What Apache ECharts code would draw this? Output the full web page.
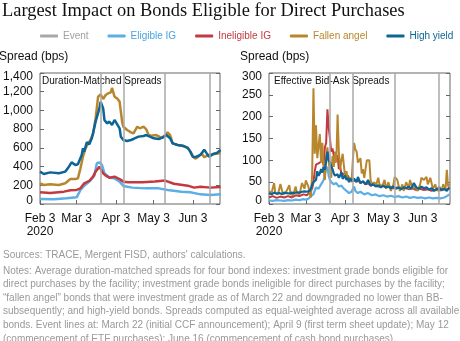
<!DOCTYPE html>
<html><head><meta charset="utf-8">
<script src="https://cdn.jsdelivr.net/npm/echarts@6/dist/echarts.min.js"></script>
<style>html,body{margin:0;padding:0;background:#fff}#c{width:460px;height:341px}</style>
</head><body><div id="c"></div>
<script>
// x values are days since Feb 3, 2020
const monthTickDays = [0, 29, 60, 90, 121];
const monthTickLabels = ['Feb 3\n2020', 'Mar 3', 'Apr 3', 'May 3', 'Jun 3'];
const eventDays = [48, 66, 99, 134]; // Mar 22, Apr 9, May 12, Jun 16
const dmTicks = [0, 200, 400, 600, 800, 1000, 1200, 1400];
const baTicks = [0, 50, 100, 150, 200, 250, 300];

// Duration-matched spreads (bps)
const dmHyDays = [0,3,8,15,20,22,25,28,30,33,34,35,37,39,41,42,44,47,48,50,51,53,55,57,59,60,63,64,66,69,72,74,78,82,84,87,90,94,97,100,103,105,109,113,117,119,121,123,127,130,132,134,137,140,143];
const dmHyVals = [346,321,338,328,346,381,445,417,424,524,595,559,659,638,702,755,880,1022,1094,1022,898,862,880,844,898,880,809,720,684,673,684,695,720,727,737,720,702,695,709,737,702,648,630,623,600,560,506,500,524,580,541,505,535,545,577];
const dmFaDays = [0,3,8,15,20,24,28,30,32,34,36,38,40,42,44,46,48,49,50,52,54,56,57,59,61,63,65,66,69,72,74,77,79,82,84,86,88,92,96,99,101,103,105,109,113,117,119,121,123,125,128,130,134,137,143];
const dmFaVals = [221,203,210,203,221,267,267,274,381,506,595,648,684,755,915,1147,1172,1147,1122,1165,1183,1193,1240,1147,1129,1094,880,826,791,766,755,826,809,826,801,737,730,737,709,730,766,737,648,630,620,600,560,505,485,500,541,500,524,531,545];
const dmInDays = [0,8,19,24,29,32,35,39,42,44,47,48,50,52,55,59,63,66,70,81,91,99,106,117,122,127,135,143];
const dmInVals = [125,118,132,146,150,167,221,246,292,346,399,399,328,303,281,292,267,239,232,232,240,250,217,196,175,185,175,182];
const dmElDays = [0,11,21,25,29,32,35,39,43,45,47,49,51,55,59,63,66,73,83,94,101,112,119,127,135,143];
const dmElVals = [53,50,61,68,71,150,196,239,303,435,445,417,328,281,274,239,192,175,167,167,150,132,125,103,96,103];

// Effective bid-ask spreads (bps)
const baFaDays = [0,2,4,5,7,9,11,13,16,17,19,21,22,24,26,28,29,31,32,33,34,35,36,37,38,40,41,42,43,44,45,46,47,49,50,51,52,53,54,55,56,57,58,60,61,62,64,65,66,67,68,69,70,72,73,74,75,77,79,80,81,83,84,86,87,89,91,92,94,96,98,99,101,103,105,106,108,110,111,113,115,117,119,120,122,124,125,127,129,131,132,134,136,137,139,140,141,142];
const baFaVals = [30,25,48,25,22,46,22,25,43,22,20,40,25,22,48,35,54,40,25,15,70,265,115,180,105,160,95,140,80,55,110,130,95,60,110,85,120,95,205,120,80,100,115,60,75,55,60,50,100,140,125,120,95,105,70,80,60,100,100,55,45,50,40,60,45,40,55,35,50,30,45,62,55,30,45,30,50,35,55,35,40,30,45,60,55,62,45,60,35,45,30,40,30,45,35,78,40,45];
const baInDays = [0,3,6,9,12,15,18,21,24,27,30,32,34,35,36,37,38,40,41,42,43,44,45,46,47,48,49,50,51,52,53,54,55,56,57,59,60,62,64,66,68,70,72,74,76,78,80,83,86,89,92,95,98,101,104,107,110,113,116,119,122,125,128,131,134,137,140,142];
const baInVals = [15,18,14,17,15,18,15,20,18,22,20,28,35,50,75,90,88,95,92,100,90,130,140,217,175,150,120,127,125,95,105,112,80,85,70,68,60,65,55,60,52,55,48,52,45,48,42,45,40,42,38,40,36,38,35,37,34,36,32,35,32,34,30,33,31,33,34,36];
const baHyDays = [0,2,4,6,8,10,12,14,16,18,20,22,24,26,28,30,32,33,34,35,36,37,38,39,40,41,42,43,44,45,46,47,48,49,50,51,52,53,54,55,56,57,58,59,60,61,62,63,64,65,66,67,68,69,70,72,74,76,78,80,82,84,86,88,90,92,94,96,98,100,102,104,106,108,110,112,114,115,116,118,120,122,124,126,128,130,132,134,136,138,140,142];
const baHyVals = [25,22,26,24,25,23,26,25,24,26,25,27,26,28,29,28,30,35,45,50,48,55,75,65,70,80,72,85,78,100,120,100,95,85,80,70,65,62,68,60,65,73,58,62,65,55,60,50,58,54,52,58,55,50,62,48,52,45,55,42,45,40,43,38,42,38,40,36,40,35,38,34,38,36,40,35,48,52,38,35,40,36,38,33,36,30,34,36,32,35,30,38];
const baElDays = [0,3,6,9,12,15,18,21,24,27,29,31,33,35,37,39,41,43,44,45,46,47,48,49,51,53,55,57,59,61,63,65,67,68,70,72,75,78,81,84,87,90,93,96,99,102,105,108,111,114,117,120,123,126,129,132,135,138,140,142];
const baElVals = [8,7,9,8,7,9,8,10,9,11,10,12,18,22,38,35,45,55,58,80,85,65,55,50,45,48,40,42,35,30,25,28,40,30,25,28,22,25,20,22,18,20,17,19,16,18,15,17,14,16,14,15,13,15,13,14,13,15,18,22];

const C = {ev:'#a8a8a8', el:'#5caee6', ine:'#c23a40', fa:'#b8872d', hy:'#0c6596'};
const FONT = 'Liberation Sans';

function zip(d, v) { return d.map((x, i) => [x, v[i]]); }

function xAxisCfg(gi) {
  return {
    type: 'value', gridIndex: gi, min: 0, max: 142.5,
    axisLine: {show: false},
    splitLine: {show: false},
    axisTick: {show: true, inside: true, length: 4, lineStyle: {color: '#666'}, customValues: monthTickDays},
    axisLabel: {
      customValues: monthTickDays, color: '#111', fontSize: 12, fontFamily: FONT, lineHeight: 13, margin: 8,
      formatter: v => monthTickLabels[monthTickDays.indexOf(v)] || ''
    }
  };
}
function yAxisCfg(gi, max, ticks, fmt, pos, showLabel) {
  const lab = {fontSize: 12, fontFamily: FONT, color: '#111'};
  return {
    type: 'value', gridIndex: gi, min: 0, max: max, position: pos,
    axisLine: {show: false},
    splitLine: {show: false},
    axisTick: {show: true, inside: true, length: 4, lineStyle: {color: '#666'}, customValues: ticks},
    axisLabel: {
      show: showLabel, customValues: ticks, color: '#111', fontSize: 12, fontFamily: FONT, margin: 7,
      formatter: v => {
        const s = fmt(v);
        if (v === 0) return '{lo|' + s + '}';
        if (v === max) return '{hi|' + s + '}';
        return s;
      },
      rich: {
        lo: Object.assign({padding: [0, 0, 7, 0]}, lab),
        hi: Object.assign({padding: [8, 0, 0, 0]}, lab)
      }
    }
  };
}
function lineSeries(name, color, xi, yi, days, vals, w) {
  return {
    name: name, type: 'line', xAxisIndex: xi, yAxisIndex: yi, data: zip(days, vals),
    showSymbol: false, symbol: 'none', lineStyle: {color: color, width: w}, itemStyle: {color: color},
    silent: true, animation: false
  };
}
function eventSeries(xi, yi) {
  return {
    name: 'Event', type: 'line', xAxisIndex: xi, yAxisIndex: yi, data: [],
    itemStyle: {color: C.ev}, lineStyle: {color: C.ev},
    markLine: {
      silent: true, symbol: 'none', animation: false, label: {show: false},
      lineStyle: {color: C.ev, width: 1.5, type: 'solid'},
      data: eventDays.map(d => ({xAxis: d}))
    }
  };
}

const chart = echarts.init(document.getElementById('c'), null, {renderer: 'canvas'});
const fmtComma = v => v.toLocaleString('en-US');
chart.setOption({
  animation: false,
  backgroundColor: '#fff',
  legend: {
    left: 40, top: 31, width: 420, padding: 0, itemWidth: 18, itemHeight: 3, itemGap: 19, icon: 'roundRect',
    textStyle: {fontSize: 10, fontFamily: FONT},
    data: [
      {name: 'Event', textStyle: {color: '#a0a0a0'}},
      {name: 'Eligible IG', textStyle: {color: '#4aa3e0'}},
      {name: 'Ineligible IG', textStyle: {color: C.ine}},
      {name: 'Fallen angel', textStyle: {color: C.fa}},
      {name: 'High yield', textStyle: {color: C.hy}}
    ]
  },
  grid: [
    {left: 36, top: 73, width: 184, height: 131, show: true, borderColor: '#666', borderWidth: 1, backgroundColor: 'transparent'},
    {left: 269, top: 73, width: 181, height: 131, show: true, borderColor: '#666', borderWidth: 1, backgroundColor: 'transparent'}
  ],
  xAxis: [xAxisCfg(0), xAxisCfg(1)],
  yAxis: [
    yAxisCfg(0, 1400, dmTicks, fmtComma, 'left', true),
    yAxisCfg(1, 300, baTicks, v => String(v), 'left', true),
    yAxisCfg(0, 1400, dmTicks, fmtComma, 'right', false),
    yAxisCfg(1, 300, baTicks, v => String(v), 'right', false)
  ],
  graphic: [
    {type: 'text', left: 2, top: 2, style: {text: 'Largest Impact on Bonds Eligible for Direct Purchases', font: '18.4px "Liberation Serif"', fill: '#111'}},
    {type: 'text', left: -1, top: 51, style: {text: 'Spread (bps)', font: '12px "Liberation Sans"', fill: '#111'}},
    {type: 'text', left: 240, top: 51, style: {text: 'Spread (bps)', font: '12px "Liberation Sans"', fill: '#111'}},
    {type: 'text', left: 42, top: 76, style: {text: 'Duration-Matched Spreads', font: '10px "Liberation Sans"', fill: '#111'}},
    {type: 'text', left: 274, top: 76, style: {text: 'Effective Bid-Ask Spreads', font: '10px "Liberation Sans"', fill: '#111'}},
    {type: 'text', left: 3, top: 250, style: {text: "Sources: TRACE, Mergent FISD, authors' calculations.", font: '10px "Liberation Sans"', fill: '#999'}},
    {type: 'text', left: 3, top: 264, style: {
      text: 'Notes: Average duration-matched spreads for four bond indexes: investment grade bonds eligible for\n' +
            'direct purchases by the facility; investment grade bonds ineligible for direct purchases by the facility;\n' +
            '\u201cfallen angel\u201d bonds that were investment grade as of March 22 and downgraded no lower than BB-\n' +
            'subsequently; and high-yield bonds. Spreads computed as equal-weighted average across all available\n' +
            'bonds. Event lines at: March 22 (initial CCF announcement); April 9 (first term sheet update); May 12\n' +
            '(commencement of ETF purchases); June 16 (commencement of cash bond purchases).',
      font: '10px "Liberation Sans"', fill: '#999', lineHeight: 13.6}}
  ],
  series: [
    eventSeries(0, 0),
    lineSeries('Eligible IG', C.el, 0, 0, dmElDays, dmElVals, 2.5),
    lineSeries('Ineligible IG', C.ine, 0, 0, dmInDays, dmInVals, 2.5),
    lineSeries('Fallen angel', C.fa, 0, 0, dmFaDays, dmFaVals, 2.5),
    lineSeries('High yield', C.hy, 0, 0, dmHyDays, dmHyVals, 2.5),
    eventSeries(1, 1),
    lineSeries('Eligible IG', C.el, 1, 1, baElDays, baElVals, 2.2),
    lineSeries('Ineligible IG', C.ine, 1, 1, baInDays, baInVals, 2),
    lineSeries('Fallen angel', C.fa, 1, 1, baFaDays, baFaVals, 2),
    lineSeries('High yield', C.hy, 1, 1, baHyDays, baHyVals, 2.2)
  ]
});
</script></body></html>
